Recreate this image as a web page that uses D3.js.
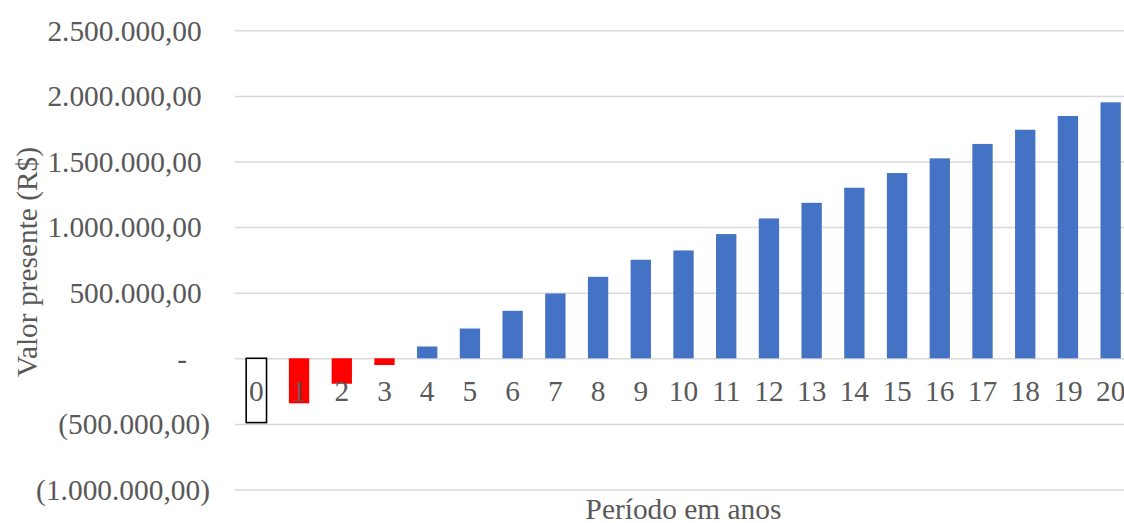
<!DOCTYPE html>
<html>
<head>
<meta charset="utf-8">
<script src="https://cdn.jsdelivr.net/npm/d3@7"></script>
<style>
  html, body { margin: 0; padding: 0; background: #fff; }
  svg { display: block; }
</style>
</head>
<body>
<svg id="chart" width="1124" height="523"></svg>
<script>
// Present value per year (R$)
const periods = [0, 1, 2, 3, 4, 5, 6, 7, 8, 9, 10, 11, 12, 13, 14, 15, 16, 17, 18, 19, 20];
const presentValues = [-490000, -343000, -194000, -51000, 90000, 227000, 362000, 494000, 621000,
  751000, 822000, 947000, 1066000, 1185000, 1300000, 1412000, 1524000, 1634000, 1742000, 1847000, 1951000];
const tickValues = [-1000000, -500000, 0, 500000, 1000000, 1500000, 2000000, 2500000];
const tickLabels = ["(1.000.000,00)", "(500.000,00)", "-", "500.000,00", "1.000.000,00",
  "1.500.000,00", "2.000.000,00", "2.500.000,00"];

const FONT = "'Liberation Serif', 'Times New Roman', Times, serif";
const FS = 29.4;
const TEXT = "#595959";

const svg = d3.select("#chart")
  .attr("font-family", FONT);
const plot = { left: 235, right: 1132, top: 30.3, bottom: 489.5 };

const x = d3.scaleBand()
  .domain(periods)
  .range([plot.left, plot.right])
  .paddingInner(0.524)
  .paddingOuter(0.262);

const y = d3.scaleLinear()
  .domain([-1000000, 2500000])
  .range([plot.bottom, plot.top]);

// Horizontal gridlines
const yAxis = d3.axisLeft(y)
  .tickValues(tickValues)
  .tickSize(-(plot.right - plot.left))
  .tickFormat("");
const grid = svg.append("g")
  .attr("transform", `translate(${plot.left},0)`)
  .call(yAxis);
grid.select(".domain").remove();
grid.selectAll(".tick line").attr("stroke", "#d9d9d9").attr("stroke-width", 1.5);

// Y tick labels, accounting style alignment
const labelRight = 210;
svg.append("g").selectAll("text")
  .data(tickValues)
  .join("text")
  .attr("font-family", FONT)
  .attr("fill", TEXT)
  .attr("x", labelRight)
  .attr("y", d => y(d))
  .attr("dy", "0.35em")
  .attr("text-anchor", "end")
  .attr("font-size", FS)
  .attr("dx", (d, i) => {
    const t = tickLabels[i];
    if (t.endsWith(")")) return 0;
    if (t === "-") return -23;
    return -8.3;
  })
  .text((d, i) => tickLabels[i]);

// Bars
svg.append("g").selectAll("rect")
  .data(periods)
  .join("rect")
  .attr("x", d => x(d))
  .attr("width", x.bandwidth())
  .attr("y", (d, i) => y(Math.max(0, presentValues[i])))
  .attr("height", (d, i) => Math.abs(y(presentValues[i]) - y(0)))
  .attr("fill", (d, i) => i === 0 ? "#ffffff" : (presentValues[i] < 0 ? "#ff0000" : "#4472c4"))
  .attr("stroke", (d, i) => i === 0 ? "#000000" : "none")
  .attr("stroke-width", 1.6);

// Category labels below the zero line
svg.append("g").selectAll("text")
  .data(periods)
  .join("text")
  .attr("font-family", FONT)
  .attr("fill", TEXT)
  .attr("x", d => x(d) + x.bandwidth() / 2)
  .attr("y", 401)
  .attr("text-anchor", "middle")
  .attr("font-size", FS)
  .text(d => d);

// Axis titles
svg.append("text")
  .attr("font-family", FONT)
  .attr("fill", TEXT)
  .attr("x", 683.5)
  .attr("y", 519)
  .attr("text-anchor", "middle")
  .attr("font-size", FS)
  .text("Período em anos");

svg.append("text")
  .attr("font-family", FONT)
  .attr("fill", TEXT)
  .attr("transform", "translate(37,262) rotate(-90)")
  .attr("text-anchor", "middle")
  .attr("font-size", FS)
  .text("Valor presente (R$)");
</script>
</body>
</html>
